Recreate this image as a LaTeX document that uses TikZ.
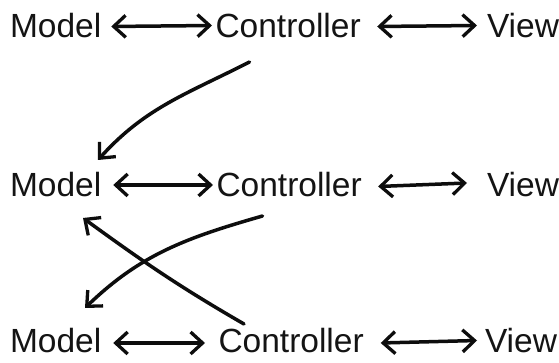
\documentclass[tikz,border=0pt]{standalone}
\usepackage{fontspec}
\setmainfont{Liberation Sans}
\usetikzlibrary{arrows.meta}
\begin{document}
\begin{tikzpicture}[x=1pt,y=1pt,
  lbl/.style={anchor=base west,inner sep=0pt,outer sep=0pt,text=black!92,
    font=\fontsize{33.5}{40}\selectfont},
  pen/.style={line width=3.5pt,line cap=round,line join=round,black!95},
  barb/.tip={Straight Barb[length=12pt,width=22pt,line width=3.3pt]},
  both/.style={pen,{barb}-{barb}},
  one/.style={pen,-{barb}}]
\useasboundingbox[fill=white] (0,0) rectangle (559,363);

% three rows of the same triad
\node[lbl] (M1) at (10,325)    {Model};
\node[lbl] (C1) at (215.5,325) {Controller};
\node[lbl] (V1) at (487,325)   {View};

\node[lbl] (M2) at (10,166)    {Model};
\node[lbl] (C2) at (216.5,166) {Controller};
\node[lbl] (V2) at (487,166)   {View};

\node[lbl] (M3) at (10,10)     {Model};
\node[lbl] (C3) at (218.5,10)  {Controller};
\node[lbl] (V3) at (485,10)    {View};

% two-way links within each row
\draw[both] ([shift={(10,11.5)}]M1.base east) -- ([shift={(-3.5,12.5)}]C1.base west);
\draw[both] ([shift={(16.5,11.5)}]C1.base east) -- ([shift={(-10,12.5)}]V1.base west);

\draw[both] ([shift={(12,12)}]M2.base east) -- ([shift={(-3.5,12)}]C2.base west);
\draw[both] ([shift={(16.5,10.5)}]C2.base east) -- ([shift={(-20,14)}]V2.base west);

\draw[both] ([shift={(12,10)}]M3.base east) -- ([shift={(-13.5,10)}]C3.base west);
\draw[both] ([shift={(17,10)}]C3.base east) -- ([shift={(-8,12.5)}]V3.base west);

% links between rows
\draw[one] ([shift={(34,-24)}]C1.base west) to[out=207,in=48] ([shift={(88,37)}]M2.base west);
\draw[one] ([shift={(46,-19)}]C2.base west) to[out=196,in=44] ([shift={(75,45)}]M3.base west);
\draw[one] ([shift={(25.5,29)}]C3.base west) to[out=150,in=-36] ([shift={(73,-21)}]M2.base west);
\end{tikzpicture}
\end{document}
